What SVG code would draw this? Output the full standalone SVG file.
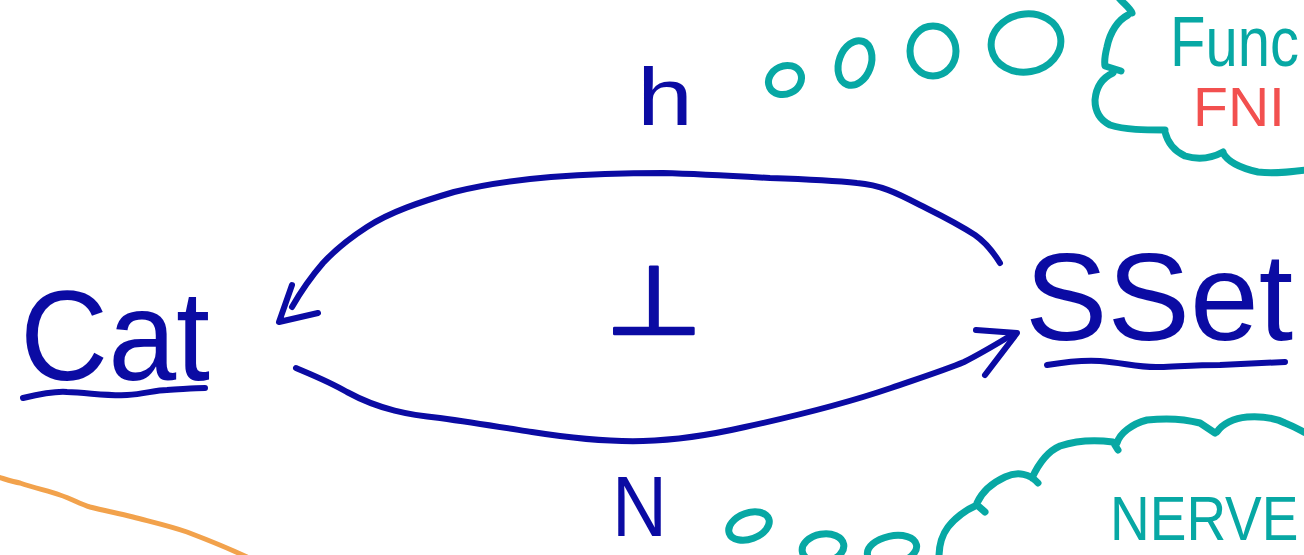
<svg xmlns="http://www.w3.org/2000/svg" width="1304" height="555" viewBox="0 0 1304 555">
<style>
.ink{fill:none;stroke:#0b0ba3;stroke-width:6;stroke-linecap:round;stroke-linejoin:round}
.teal{fill:none;stroke:#07a8a4;stroke-width:7;stroke-linecap:round;stroke-linejoin:round}
.orange{fill:none;stroke:#f2a24c;stroke-width:5;stroke-linecap:round}
.t-blue{fill:#0b0ba3;font-family:"Liberation Sans","DejaVu Sans",sans-serif}
.t-teal{fill:#07a8a4;font-family:"Liberation Sans","DejaVu Sans",sans-serif}
.t-red{fill:#f2504f;font-family:"Liberation Sans","DejaVu Sans",sans-serif}
</style>
<rect width="1304" height="555" fill="#ffffff"/>

<g id="node-cat">
<text class="t-blue" x="20" y="380" font-size="128" textLength="190" lengthAdjust="spacingAndGlyphs">Cat</text>
<path class="ink" stroke-width="7" d="M23,398 C40,394 55,391 67,392 C90,393 110,396 127,395 C145,394 155,390 167,390 C185,389 195,388 205,388"/>
</g>

<g id="node-sset">
<text class="t-blue" x="1025" y="340" font-size="124" textLength="268" lengthAdjust="spacingAndGlyphs">SSet</text>
<path class="ink" stroke-width="7" d="M1047,365 C1065,362 1085,360 1100,361 C1125,363 1140,368 1160,367 C1185,366 1200,365 1220,365 C1245,364 1265,363 1285,362"/>
</g>

<g id="label-h">
<text class="t-blue" x="637" y="125" font-size="82" textLength="56" lengthAdjust="spacingAndGlyphs">h</text>
</g>

<g id="label-N">
<text class="t-blue" x="612" y="536" font-size="85" textLength="55" lengthAdjust="spacingAndGlyphs">N</text>
</g>

<g id="adjunction">
<text class="t-blue" x="605" y="334" font-size="96" textLength="98" lengthAdjust="spacingAndGlyphs" stroke="#0b0ba3" stroke-width="2.5" stroke-linejoin="round" font-family="DejaVu Sans, sans-serif">⊥</text>
</g>

<g id="connectors">
<path class="ink" d="M1000,263 C992,250 985,242 975,235 C955,222 940,215 920,205 C895,192 880,185 857,183 C830,180 800,179 770,178 C735,176 700,174 663,173 C625,173 590,174 551,177 C515,180 485,184 454,192 C420,202 390,212 367,227 C350,238 335,250 323,263 C310,278 300,293 292,307"/>
<path class="ink" d="M292,285 L279,322 L318,313"/>
<path class="ink" stroke-width="7" d="M296,368 C315,376 330,382 347,392 C380,410 410,415 440,418 C475,423 500,427 532,432 C570,438 605,442 643,441 C680,440 710,435 745,427 C800,415 850,402 891,388 C920,378 945,370 964,362 C980,354 995,345 1010,336"/>
<path class="ink" d="M976,330 L1017,333 L985,375"/>
</g>

<g id="bubbles-top">
<ellipse class="teal" cx="785" cy="80" rx="17" ry="14" transform="rotate(-25 785 80)"/>
<ellipse class="teal" cx="855" cy="63" rx="16" ry="23" transform="rotate(20 855 63)"/>
<ellipse class="teal" cx="933" cy="51" rx="23" ry="25"/>
<ellipse class="teal" cx="1026" cy="43" rx="35" ry="29" transform="rotate(-10 1026 43)"/>
</g>

<g id="bubbles-bottom">
<ellipse class="teal" cx="749" cy="526" rx="21" ry="13" transform="rotate(-20 749 526)"/>
<ellipse class="teal" cx="823" cy="548" rx="21" ry="14" transform="rotate(-10 823 548)"/>
<ellipse class="teal" cx="892" cy="550" rx="25" ry="14" transform="rotate(-12 892 550)"/>
</g>

<g id="cloud-top">
<path class="teal" d="M1119,-2 C1124,4 1130,8 1132,13 M1128,15 C1118,20 1110,32 1107,47 C1105,55 1104,60 1105,66 L1121,71 M1113,73 C1102,78 1096,88 1095,100 C1095,112 1100,120 1110,125 C1125,130 1145,130 1165,130 M1165,132 C1167,140 1172,150 1185,156 C1198,160 1212,158 1223,152 M1223,153 C1228,162 1240,168 1258,172 C1275,174 1290,172 1306,170"/>
<text class="t-teal" font-size="58" transform="translate(1170,66) scale(1,1.2)">Func</text>
<text class="t-red" x="1193" y="126" font-size="56" textLength="92" lengthAdjust="spacingAndGlyphs">FNI</text>
</g>

<g id="cloud-bottom">
<path class="teal" d="M939,557 C939,545 942,535 948,527 C955,518 966,510 977,505 L985,512 M977,503 C982,492 992,483 1005,477 C1018,471 1030,474 1038,483 M1032,478 C1038,465 1046,452 1060,446 C1078,440 1098,440 1113,442 L1118,450 M1117,443 C1120,433 1132,424 1147,420 C1165,418 1185,419 1200,423 L1215,433 M1217,432 C1222,424 1234,418 1247,417 C1262,416 1275,418 1285,423 C1295,427 1300,430 1306,433"/>
<text class="t-teal" font-size="55" transform="translate(1110,540) scale(1,1.15)">NERVE</text>
</g>

<g id="stroke-orange">
<path class="orange" d="M-2,477 C8,480 14,482 20,483 C35,488 48,491 60,495 C72,499 80,504 90,507 C105,511 118,513 133,517 C152,522 170,526 187,532 C208,540 228,548 247,557"/>
</g>
</svg>
